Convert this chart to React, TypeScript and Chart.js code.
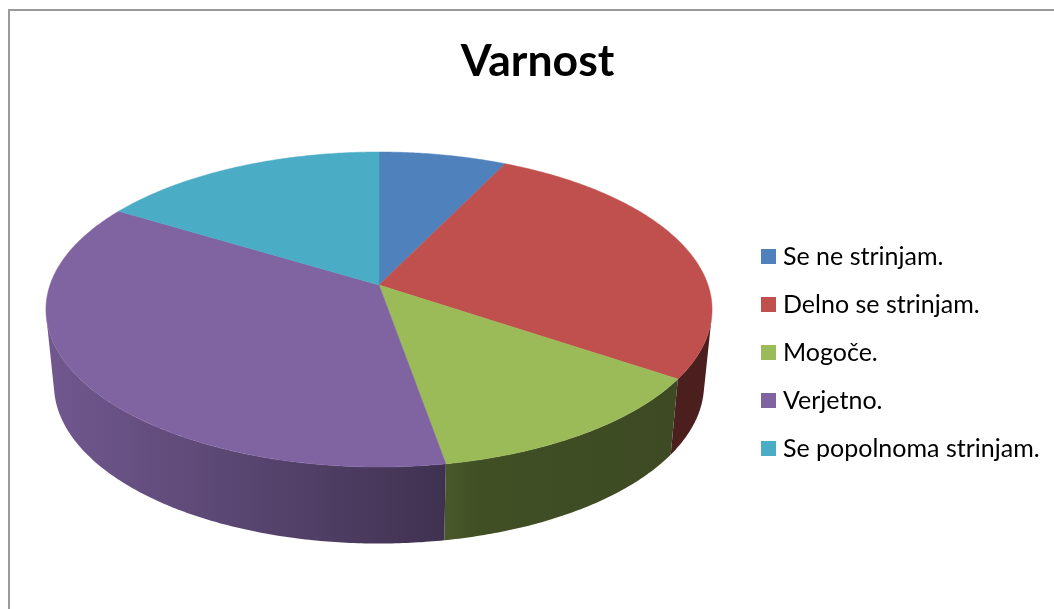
import React, { useEffect, useRef } from "react";
import { Chart, registerables } from "chart.js";

Chart.register(...registerables);

const categories = ["Se ne strinjam.", "Delno se strinjam.", "Mogoče.", "Verjetno.", "Se popolnoma strinjam."];
const shares = [7.2, 27.2, 12.8, 36.4, 16.3];
const sliceColors = ["#4F81BD", "#C0504D", "#9BBB59", "#8064A2", "#4BACC6"];
const chartTitle = "Varnost";

// Projection of the flat pie on to a tilted disk seen in perspective
const view = {
  cx: 379, apexY: 285, rx: 329, ry: 153.7, k: 0.1556, rimCy: 310, floorCy: 385, floorX: 0.976,
  wallFrom: 0.21, wallTo: Math.PI - 0.21,
};
// Side-wall darkening along the horizontal axis [x, brightness]
const shade: [number, number][] = [[45, 0.88], [300, 0.64], [440, 0.5], [446, 0.47], [480, 0.42], [712, 0.39]];

function rimPoint(a: number): [number, number] {
  const w = 1 - view.k * Math.sin(a);
  return [view.cx + (view.rx * Math.cos(a)) / w, view.apexY + (view.ry * Math.sin(a)) / w];
}
function floorPoint(a: number): [number, number] {
  const [x, y] = rimPoint(a);
  const t = (y - view.rimCy) / 157.5;
  return [view.cx + (x - view.cx) * view.floorX, view.floorCy + t * 159];
}
function hexToRgb(h: string) {
  return [1, 3, 5].map((i) => parseInt(h.slice(i, i + 2), 16));
}

const pie3d = {
  id: "pie3d",
  afterLayout(chart: any) {
    const lg = chart.legend;
    const h = lg.bottom - lg.top;
    const w = lg.right - lg.left;
    lg.left = 743.5;
    lg.right = 743.5 + w;
    lg.top = 352.5 - h / 2;
    lg.bottom = lg.top + h;
  },
  beforeDraw(chart: any) {
    const ctx = chart.ctx;
    ctx.save();
    ctx.strokeStyle = "#9a9a9a";
    ctx.lineWidth = 2;
    ctx.strokeRect(9, 10, 2000, 2000);
    ctx.restore();
  },
  beforeDatasetsDraw(chart: any) {
    const ctx = chart.ctx;
    const arcs = chart.getDatasetMeta(0).data;
    const colors = chart.data.datasets[0].backgroundColor as string[];
    const trace = (from: number, to: number, f: (a: number) => [number, number]) => {
      const n = Math.max(2, Math.ceil(Math.abs(to - from) / 0.01));
      for (let i = 0; i <= n; i++) {
        const [x, y] = f(from + ((to - from) * i) / n);
        ctx.lineTo(x, y);
      }
    };
    ctx.save();
    // Side walls: only the part that faces the viewer, between the two silhouette tangents
    arcs.forEach((arc: any, i: number) => {
      const from = Math.max(arc.startAngle, view.wallFrom);
      const to = Math.min(arc.endAngle, view.wallTo);
      if (to <= from) return;
      const [r, g, b] = hexToRgb(colors[i]);
      const first = shade[0][0];
      const span = shade[shade.length - 1][0] - first;
      const grad = ctx.createLinearGradient(first, 0, first + span, 0);
      shade.forEach(([x, f]) =>
        grad.addColorStop((x - first) / span, `rgb(${r * f},${g * f},${b * f})`)
      );
      ctx.beginPath();
      trace(from, to, rimPoint);
      trace(to, from, floorPoint);
      ctx.closePath();
      ctx.fillStyle = grad;
      ctx.fill();
    });
    // Top face
    arcs.forEach((arc: any, i: number) => {
      ctx.beginPath();
      ctx.moveTo(view.cx, view.apexY);
      trace(arc.startAngle, arc.endAngle, rimPoint);
      ctx.closePath();
      ctx.fillStyle = colors[i];
      ctx.strokeStyle = colors[i];
      ctx.lineWidth = 0.5;
      ctx.fill();
      ctx.stroke();
    });
    ctx.restore();
    return false;
  },
};

export default function App() {
  const ref = useRef<HTMLCanvasElement>(null);
  useEffect(() => {
    const chart = new Chart(ref.current!, {
      type: "pie",
      data: {
        labels: categories,
        datasets: [{ data: shares, backgroundColor: sliceColors, borderWidth: 0 }],
      },
      options: {
        animation: false,
        responsive: false,
        layout: { padding: { left: 21, top: 0, right: 0, bottom: 0 } },
        plugins: {
          title: {
            display: true,
            text: chartTitle,
            color: "#000",
            font: { family: "Lato", size: 44.5, weight: "bold" },
            padding: { top: 35, bottom: 10 },
          },
          legend: {
            position: "right",
            labels: {
              color: "#000",
              font: { family: "Lato", size: 25 },
              usePointStyle: true,
              pointStyle: "rect",
              boxWidth: 4,
              boxHeight: 15,
              padding: 23,
            },
          },
          tooltip: { enabled: false },
        },
      },
      plugins: [pie3d],
    } as any);
    return () => chart.destroy();
  }, []);
  return (
    <div style={{ position: "fixed", left: 0, top: 0 }}>
      <canvas ref={ref} width={1054} height={609} style={{ display: "block" }} />
    </div>
  );
}
